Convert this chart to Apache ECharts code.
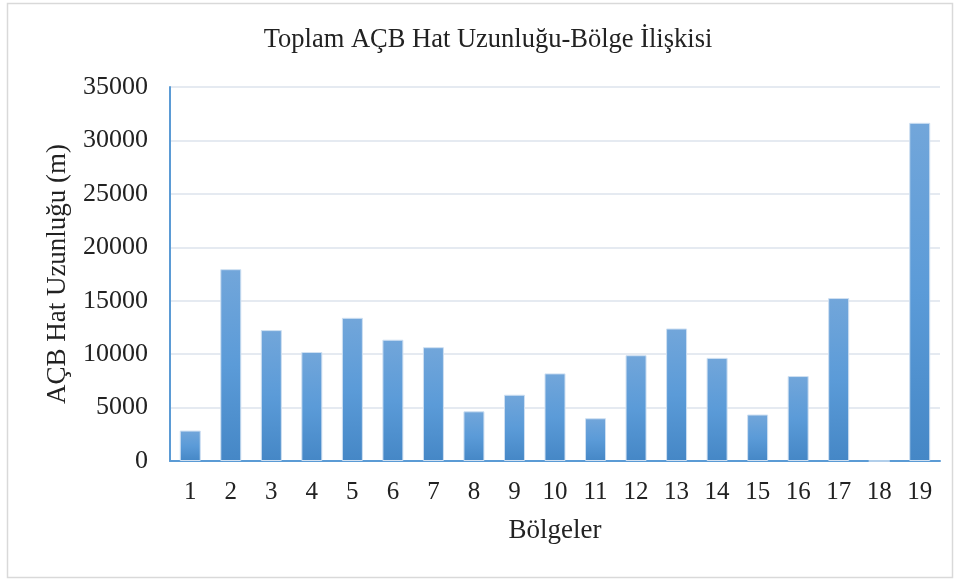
<!DOCTYPE html>
<html>
<head>
<meta charset="utf-8">
<title>Toplam AÇB Hat Uzunluğu-Bölge İlişkisi</title>
<script src="https://cdn.jsdelivr.net/npm/echarts@6/dist/echarts.min.js"></script>
<style>
  html, body { margin: 0; padding: 0; background: #fff; }
  #chart { width: 960px; height: 580px; }
</style>
</head>
<body>
<div id="chart"></div>
<script>
// bölge numaraları ve hat uzunlukları (m)
const regions = ["1", "2", "3", "4", "5", "6", "7", "8", "9", "10",
  "11", "12", "13", "14", "15", "16", "17", "18", "19"];
const lengths = [2850, 17950, 12250, 10200, 13400, 11350, 10650, 4650, 6200, 8200,
  4000, 9900, 12400, 9650, 4350, 7950, 15250, 0, 31650];

const font = "'Liberation Serif', 'Times New Roman', serif";
const chart = echarts.init(document.getElementById("chart"));

const option = {
  animation: false,
  title: {
    text: "Toplam AÇB Hat Uzunluğu-Bölge İlişkisi",
    left: 483,
    top: 22,
    textAlign: "center",
    textStyle: { fontFamily: font, fontSize: 26.5, fontWeight: "normal", color: "#222" }
  },
  graphic: [{
    type: "rect",
    shape: { x: 7.5, y: 3.5, width: 945, height: 574 },
    style: { fill: "none", stroke: "#d9d9d9", lineWidth: 1.5 },
    silent: true
  }],
  grid: { left: 170, right: 20, top: 87, bottom: 119 },
  xAxis: {
    type: "category",
    data: regions,
    name: "Bölgeler",
    nameLocation: "middle",
    nameGap: 56,
    nameTextStyle: { fontFamily: font, fontSize: 27, color: "#222" },
    axisLine: { lineStyle: { color: "#5b9bd5", width: 2 } },
    axisTick: { show: false },
    axisLabel: { fontFamily: font, fontSize: 25, color: "#222", margin: 19 }
  },
  yAxis: {
    type: "value",
    min: 0,
    max: 35000,
    interval: 5000,
    name: "AÇB Hat Uzunluğu (m)",
    nameLocation: "middle",
    nameGap: 99,
    nameTextStyle: { fontFamily: font, fontSize: 27, color: "#222" },
    axisLine: { show: true, lineStyle: { color: "#5b9bd5", width: 2 } },
    axisTick: { show: false },
    axisLabel: {
      fontFamily: font, fontSize: 26, color: "#222", margin: 22,
      formatter: v => String(v)
    },
    splitLine: { lineStyle: { color: "#dde3ec", width: 1.5 } }
  },
  series: [{
    type: "bar",
    data: lengths,
    barWidth: 21,
    itemStyle: {
      color: new echarts.graphic.LinearGradient(0, 0, 0, 1, [
        { offset: 0, color: "#72a6da" },
        { offset: 0.5, color: "#5b9bd8" },
        { offset: 1, color: "#4587c6" }
      ]),
      borderColor: "#cfe0f2",
      borderWidth: 1
    }
  }]
};

chart.setOption(option);
</script>
</body>
</html>
